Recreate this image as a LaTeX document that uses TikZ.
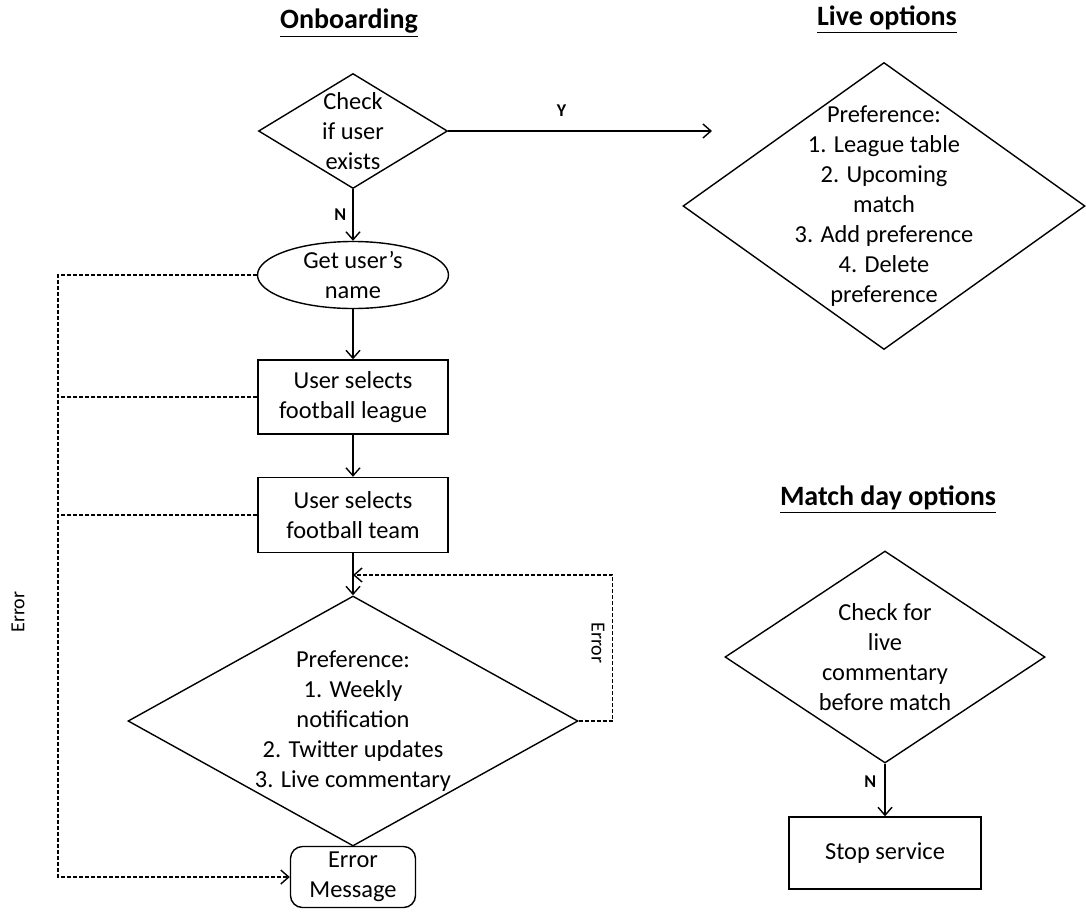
\documentclass[tikz,border=0pt]{standalone}
\usepackage{fontspec}
\setmainfont{Carlito}
\usepackage{tikz}
\usetikzlibrary{calc,shapes.geometric,arrows.meta}

\begin{document}
\begin{tikzpicture}[x=0.5pt,y=-0.5pt,>={Straight Barb[length=4pt,width=7pt]},
lab/.style={font=\fontsize{12.2}{15}\selectfont,align=center},
ttl/.style={font=\fontsize{14}{17}\selectfont\bfseries},
yn/.style={font=\fontsize{9}{10}\selectfont\bfseries,inner sep=1pt},
errlab/.style={font=\fontsize{10}{12}\selectfont},
dec/.style={draw,diamond,inner sep=0,line width=0.7pt},
actbox/.style={draw,rectangle,inner sep=0,line width=0.7pt,font=\fontsize{12.2}{15}\selectfont,align=center},
link/.style={->,line width=0.7pt},
errlink/.style={line width=0.7pt,dash pattern=on 2pt off 1pt}]
	\useasboundingbox (0,0) rectangle (1086,911);
	\def\ex{58}
	\def\cx{353}

	% titles
	\node[ttl] (t1) at (349,23) {\underline{Onboarding}};
	\node[ttl] (t2) at (887,20) {\underline{Live options}};
	\node[ttl] (t3) at (888,500) {\underline{Match day options}};

	% onboarding
	\node[dec,minimum width=94.5pt,minimum height=57.5pt,label={[lab]center:Check\\if user\\exists}] (chk) at (\cx,131) {};
	\node[draw,ellipse,inner sep=0,line width=0.7pt,minimum width=95.5pt,minimum height=32pt,lab] (name) at (\cx,275) {Get user’s\\name};
	\node[actbox,minimum width=95pt,minimum height=37pt] (league) at (\cx,397) {User selects\\football league};
	\node[actbox,minimum width=95pt,minimum height=37.5pt] (team) at (\cx,515) {User selects\\football team};
	\node[dec,minimum width=225pt,minimum height=125pt,label={[lab]center:Preference:\\1. Weekly\\notification\\2. Twitter updates\\3. Live commentary}] (pref) at (\cx,721) {};
	\node[actbox,rounded corners=6pt,minimum width=62.5pt,minimum height=30.5pt] (err) at (\cx,877) {Error\\Message};

	% live options
	\node[dec,minimum width=201pt,minimum height=143.5pt,label={[lab]center:Preference:\\1. League table\\2. Upcoming\\match\\3. Add preference\\4. Delete\\preference}] (live) at (884,206) {};

	% match day
	\node[dec,minimum width=160pt,minimum height=106pt,label={[lab]center:Check for\\live\\commentary\\before match}] (match) at (885,657) {};
	\node[actbox,minimum width=96pt,minimum height=36pt] (stop) at (885,853) {Stop service};

	\coordinate (yend) at (712,131);
	\coordinate (eline) at (\ex,275);
	\coordinate (loopin) at (\cx,575);

	% flow
	\draw[link] (chk.east) -- node[yn,above=6pt,pos=0.43] {Y} (yend);
	\draw[link] (chk.south) -- node[yn,left=2pt] {N} (name.north);
	\draw[link] (name.south) -- (league.north);
	\draw[link] (league.south) -- (team.north);
	\draw[link] (team.south) -- (pref.north);
	\draw[link] (match.south) -- node[yn,left=3pt,pos=0.35] {N} (stop.north);

	% errors
	\draw[errlink,->] (name.west) -- (eline) |- (err.west);
	\draw[errlink] (league.west) -- (league.west -| eline);
	\draw[errlink] (team.west) -- (team.west -| eline);
	\draw[errlink,->] (pref.east) -- ++(34,0) |- (loopin);
	\node[errlab,rotate=90] (e1) at (18,612) {Error};
	\node[errlab,rotate=-90] (e2) at (598,643) {Error};
\end{tikzpicture}
\end{document}
